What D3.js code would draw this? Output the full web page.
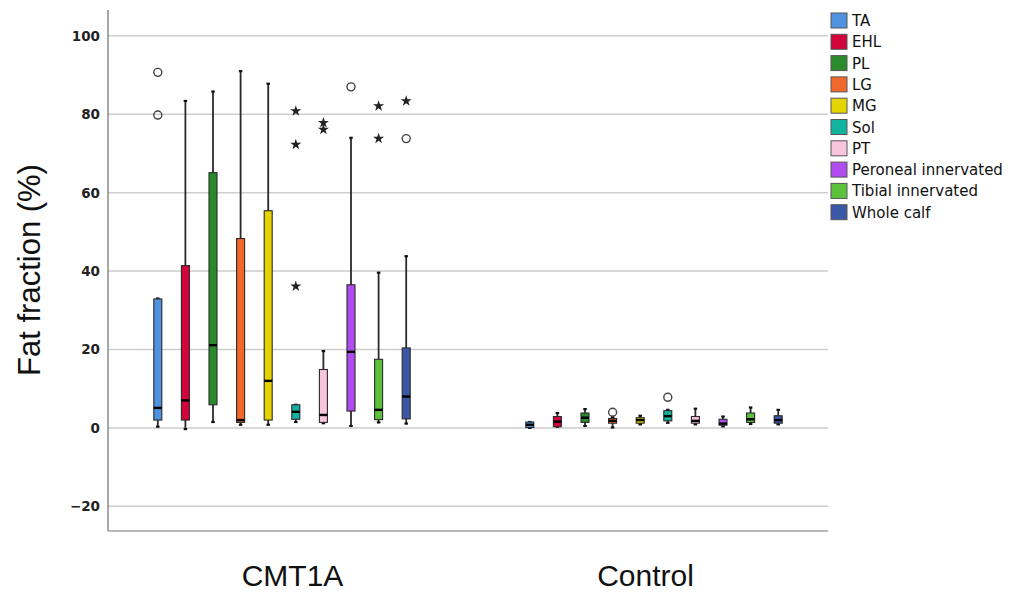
<!DOCTYPE html>
<html><head><meta charset="utf-8">
<script src="https://cdn.jsdelivr.net/npm/d3@7"></script>
<style>body{margin:0;background:#fff}</style>
</head><body>
<script>
const groups = ["CMT1A", "Control"];
const muscles = ["TA","EHL","PL","LG","MG","Sol","PT","Peroneal innervated","Tibial innervated","Whole calf"];
const colors = ["#4f92e0","#d2043c","#2b8a2b","#f0692a","#e4d500","#12b4a0","#f9c4dd","#b04cf0","#5cc23c","#3b57a8"];
const yTicks = [-20, 0, 20, 40, 60, 80, 100];

// CMT1A stats per muscle
const cmtLow  = [0.3, -0.3, 1.5, 0.8, 0.8, 1.5, 1.2, 0.5, 1.4, 1.1];
const cmtQ1   = [2.0, 2.0, 5.9, 1.4, 2.0, 2.2, 1.4, 4.3, 2.1, 2.3];
const cmtMed  = [5.1, 7.0, 21.1, 2.0, 12.0, 4.1, 3.3, 19.4, 4.6, 8.0];
const cmtQ3   = [32.9, 41.4, 65.1, 48.3, 55.4, 5.9, 14.9, 36.5, 17.5, 20.4];
const cmtHigh = [33.0, 83.4, 85.8, 91.0, 87.8, 5.9, 19.6, 74.0, 39.6, 43.8];
// Control stats per muscle
const ctlLow  = [0.0, 0.3, 0.5, 0.1, 0.9, 1.3, 0.9, 0.4, 1.0, 0.9];
const ctlQ1   = [0.1, 0.3, 1.4, 1.2, 1.2, 1.8, 1.2, 0.7, 1.4, 1.2];
const ctlMed  = [0.8, 1.6, 2.6, 1.8, 2.0, 3.0, 1.8, 1.1, 2.2, 2.0];
const ctlQ3   = [1.5, 2.9, 3.8, 2.4, 2.6, 4.4, 2.9, 2.2, 3.8, 3.1];
const ctlHigh = [1.5, 3.8, 4.8, 2.8, 3.1, 4.6, 4.9, 2.9, 5.2, 4.6];
// outliers
const outGroup  = ["CMT1A","CMT1A","CMT1A","CMT1A","CMT1A","CMT1A","CMT1A","CMT1A","CMT1A","CMT1A","CMT1A","CMT1A","Control","Control"];
const outMuscle = ["TA","TA","Sol","Sol","Sol","PT","PT","Peroneal innervated","Tibial innervated","Tibial innervated","Whole calf","Whole calf","LG","Sol"];
const outValue  = [90.7, 79.8, 80.8, 72.3, 36.1, 77.8, 76.1, 87.0, 82.1, 73.8, 83.4, 73.8, 4.0, 7.8];
const outKind   = ["o","o","*","*","*","*","*","o","*","*","*","o","o","o"];

const W = 1027, H = 593;
const svg = d3.select("body").append("svg").attr("width", W).attr("height", H);

const pLeft = 108, pRight = 828, pTop = 10, pBottom = 531;
const y = d3.scaleLinear().domain([-26.3, 106.6]).range([pBottom, pTop]);
const xGroup = d3.scaleBand().domain(groups).range([96, 840]);
const xLabel = d3.scaleBand().domain(groups).range([116, 822]);
const xInner = d3.scalePoint().domain(muscles).range([-124.2, 124.2]);
const color = d3.scaleOrdinal().domain(muscles).range(colors);
const bx = (g, m) => xGroup(g) + xGroup.bandwidth() / 2 + xInner(m);

// gridlines
svg.append("g").selectAll("line").data(yTicks).join("line")
  .attr("x1", pLeft).attr("x2", pRight)
  .attr("y1", d => y(d)).attr("y2", d => y(d))
  .attr("stroke", "#cdcdcd").attr("stroke-width", 1.5);

// axis
const yAxis = d3.axisLeft(y).tickValues(yTicks).tickSize(0).tickPadding(8)
  .tickFormat(d => d < 0 ? "\u2212" + Math.abs(d) : d);
const ga = svg.append("g").attr("transform", `translate(${pLeft},0)`).call(yAxis);
ga.select(".domain").remove();
ga.selectAll("text").attr("font-family", "DejaVu Sans").attr("font-weight", "bold")
  .attr("font-size", 13.5).attr("fill", "#222");

svg.append("line").attr("x1", pLeft).attr("x2", pLeft).attr("y1", pTop).attr("y2", pBottom)
  .attr("stroke", "#8a8a8a").attr("stroke-width", 1.5);
svg.append("line").attr("x1", pLeft).attr("x2", pRight).attr("y1", pBottom).attr("y2", pBottom)
  .attr("stroke", "#a0a0a0").attr("stroke-width", 1.5);

// boxes
const rows = [];
groups.forEach((g, gi) => {
  const L = gi ? ctlLow : cmtLow, Q1 = gi ? ctlQ1 : cmtQ1, M = gi ? ctlMed : cmtMed,
        Q3 = gi ? ctlQ3 : cmtQ3, Hh = gi ? ctlHigh : cmtHigh;
  muscles.forEach((m, mi) => rows.push({g, m, lo: L[mi], q1: Q1[mi], med: M[mi], q3: Q3[mi], hi: Hh[mi]}));
});
const bw = 8, cap = 3.5;
const gb = svg.append("g").selectAll("g").data(rows).join("g");
gb.append("line").attr("x1", d => bx(d.g, d.m)).attr("x2", d => bx(d.g, d.m))
  .attr("y1", d => y(d.hi)).attr("y2", d => y(d.lo)).attr("stroke", "#2a2a2a").attr("stroke-width", 1.8);
gb.append("line").attr("x1", d => bx(d.g, d.m) - cap / 2).attr("x2", d => bx(d.g, d.m) + cap / 2)
  .attr("y1", d => y(d.hi)).attr("y2", d => y(d.hi)).attr("stroke", "#111").attr("stroke-width", 2.2);
gb.append("line").attr("x1", d => bx(d.g, d.m) - cap / 2).attr("x2", d => bx(d.g, d.m) + cap / 2)
  .attr("y1", d => y(d.lo)).attr("y2", d => y(d.lo)).attr("stroke", "#111").attr("stroke-width", 2.2);
gb.append("rect").attr("x", d => bx(d.g, d.m) - bw / 2).attr("width", bw)
  .attr("y", d => y(d.q3)).attr("height", d => Math.max(1, y(d.q1) - y(d.q3)))
  .attr("fill", d => color(d.m)).attr("stroke", "#2a2a2a").attr("stroke-width", 1.1);
gb.append("line").attr("x1", d => bx(d.g, d.m) - bw / 2).attr("x2", d => bx(d.g, d.m) + bw / 2)
  .attr("y1", d => y(d.med)).attr("y2", d => y(d.med)).attr("stroke", "#000").attr("stroke-width", 2.4);

// outliers
const outs = outValue.map((v, i) => ({g: outGroup[i], m: outMuscle[i], v, k: outKind[i]}));
const og = svg.append("g");
og.selectAll("circle").data(outs.filter(d => d.k === "o")).join("circle")
  .attr("cx", d => bx(d.g, d.m)).attr("cy", d => y(d.v)).attr("r", 4)
  .attr("fill", "none").attr("stroke", "#444").attr("stroke-width", 1.4);
og.selectAll("path").data(outs.filter(d => d.k === "*")).join("path")
  .attr("transform", d => `translate(${bx(d.g, d.m)},${y(d.v)})`)
  .attr("d", d3.symbol(d3.symbolStar, 38)).attr("fill", "#222");

// group labels
svg.append("g").selectAll("text").data(groups).join("text")
  .attr("x", d => xLabel(d) + xLabel.bandwidth() / 2).attr("y", 586)
  .attr("text-anchor", "middle").attr("font-family", "Liberation Sans, Arial")
  .attr("font-size", 30).attr("fill", "#111").text(d => d);

// y title
svg.append("text").attr("transform", `translate(40,270) rotate(-90)`)
  .attr("text-anchor", "middle").attr("font-family", "Liberation Sans, Arial")
  .attr("font-size", 31).attr("fill", "#111").text("Fat fraction (%)");

// legend
const lg = svg.append("g").selectAll("g").data(muscles).join("g")
  .attr("transform", (d, i) => `translate(831,${13 + i * 21.3})`);
lg.append("rect").attr("width", 16).attr("height", 15)
  .attr("fill", d => color(d)).attr("stroke", "#555").attr("stroke-width", 1);
lg.append("text").attr("x", 21).attr("y", 13).attr("font-family", "DejaVu Sans")
  .attr("font-size", 15).attr("fill", "#111").text(d => d);
</script>
</body></html>
